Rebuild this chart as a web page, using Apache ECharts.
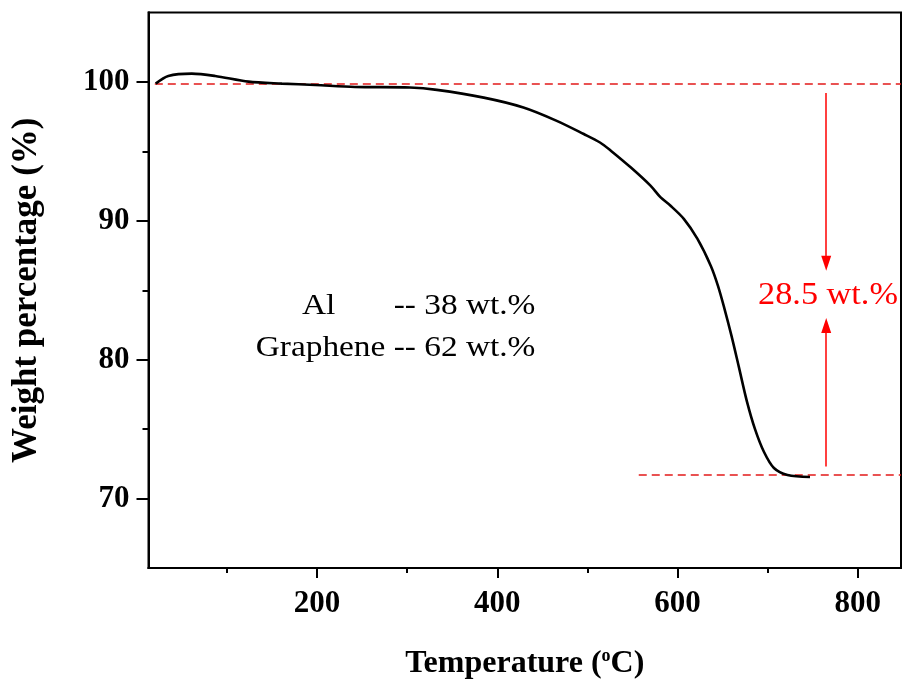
<!DOCTYPE html>
<html>
<head>
<meta charset="utf-8">
<script src="https://cdn.jsdelivr.net/npm/echarts@6/dist/echarts.min.js"></script>
<style>html,body{margin:0;padding:0;background:#fff}#c{width:904px;height:683px}</style>
</head>
<body>
<div id="c"></div>
<script>
// Data
var temperature = [21, 35, 61, 87, 124, 161, 198, 242, 303, 333, 385, 429, 466, 496, 514, 526, 548, 570, 581, 592, 607, 622, 637, 645, 652, 660, 668, 677, 686, 696, 707, 722, 747];
var weight = [99.88, 100.43, 100.6, 100.43, 100.02, 99.88, 99.78, 99.64, 99.6, 99.43, 98.87, 98.16, 97.2, 96.25, 95.64, 95.05, 93.85, 92.53, 91.7, 91.1, 90.14, 88.71, 86.75, 85.3, 83.7, 81.7, 79.5, 77.0, 75.0, 73.35, 72.2, 71.7, 71.55];
var xMajorTicks = [200, 400, 600, 800];
var xMinorTicks = [100, 300, 500, 700];
var yMajorTicks = [70, 80, 90, 100];
var yMinorTicks = [75, 85, 95];
var upperLevel = 99.85, upperStart = 20;
var lowerLevel = 71.68, lowerStart = 557;
var arrowX = 765;
var arrowDown = [99.2, 86.94];
var arrowUp = [72.3, 82.46];
var lossLabel = '28.5 wt.%';
var lossLabelPos = [767, 84.6];
var compTexts = ['Al', '-- 38 wt.%', 'Graphene -- 62 wt.%'];
var compTextPos = [[183.3, 83.81], [442.3, 83.81], [442.3, 80.8]];
var compTextAlign = ['left', 'right', 'right'];

var chart = echarts.init(document.getElementById('c'), null, {renderer: 'canvas'});
var serif = '"Liberation Serif", "Times New Roman", serif';
var xMin = 13, xMax = 848, yMin = 65, yMax = 105;
var pts = temperature.map(function (t, i) { return [t, weight[i]]; });
var red = '#ff0000';
var dashRed = '#e21a1a';

function xAxisBase(extra) {
  var a = {
    type: 'value', min: xMin, max: xMax, position: 'bottom', offset: 0,
    axisLine: {show: true, lineStyle: {color: '#000', width: 2}},
    splitLine: {show: false}
  };
  for (var k in extra) a[k] = extra[k];
  return a;
}
function yAxisBase(extra) {
  var a = {
    type: 'value', min: yMin, max: yMax, position: 'left', offset: 0,
    axisLine: {show: true, lineStyle: {color: '#000', width: 2}},
    splitLine: {show: false}
  };
  for (var k in extra) a[k] = extra[k];
  return a;
}

var option = {
  animation: false,
  backgroundColor: '#fff',
  grid: {left: 148.5, right: 3, top: 12.5, bottom: 115, containLabel: false, outerBoundsMode: 'none',
    show: true, borderColor: '#000', borderWidth: 2, backgroundColor: 'transparent'},
  xAxis: [
    xAxisBase({
      name: 'Temperature ({sup|o}C)',
      nameLocation: 'middle', nameGap: 79,
      nameTextStyle: {fontFamily: serif, fontWeight: 'bold', fontSize: 32, color: '#000',
        rich: {sup: {fontFamily: serif, fontWeight: 'bold', fontSize: 18, color: '#000', verticalAlign: 'top', padding: [0, 0, 15, 0]}}},
      axisTick: {show: true, inside: false, length: 10, lineStyle: {color: '#000', width: 2}, customValues: xMajorTicks},
      axisLabel: {show: true, margin: 20, fontFamily: serif, fontWeight: 'bold', fontSize: 31, color: '#000', customValues: xMajorTicks}
    }),
    xAxisBase({
      axisTick: {show: true, inside: false, length: 5, lineStyle: {color: '#000', width: 2}, customValues: xMinorTicks},
      axisLabel: {show: false, customValues: xMinorTicks}
    })
  ],
  yAxis: [
    yAxisBase({
      name: 'Weight percentage (%)',
      nameLocation: 'middle', nameGap: 104, nameRotate: 90,
      nameTextStyle: {fontFamily: serif, fontWeight: 'bold', fontSize: 35, color: '#000'},
      axisTick: {show: true, inside: false, length: 12, lineStyle: {color: '#000', width: 2}, customValues: yMajorTicks},
      axisLabel: {show: true, margin: 19, fontFamily: serif, fontWeight: 'bold', fontSize: 31, color: '#000', customValues: yMajorTicks}
    }),
    yAxisBase({
      axisTick: {show: true, inside: false, length: 6, lineStyle: {color: '#000', width: 2}, customValues: yMinorTicks},
      axisLabel: {show: false, customValues: yMinorTicks}
    })
  ],
  series: [
    {
      type: 'line', xAxisIndex: 0, yAxisIndex: 0,
      data: pts, smooth: 0.3, showSymbol: false, symbol: 'none',
      lineStyle: {color: '#000', width: 2.6},
      z: 5
    },
    {
      type: 'line', xAxisIndex: 0, yAxisIndex: 0, data: [], silent: true,
      markLine: {
        silent: true, animation: false,
        label: {show: false},
        emphasis: {disabled: true},
        data: [
          [{coord: [upperStart, upperLevel], symbol: 'none', lineStyle: {color: dashRed, width: 1.5, type: [8, 5]}},
           {coord: [xMax, upperLevel], symbol: 'none'}],
          [{coord: [lowerStart, lowerLevel], symbol: 'none', lineStyle: {color: dashRed, width: 1.5, type: [8, 5]}},
           {coord: [xMax, lowerLevel], symbol: 'none'}],
          [{coord: [arrowX, arrowDown[0]], symbol: 'none', lineStyle: {color: red, width: 1.5, type: 'solid'}},
           {coord: [arrowX, arrowDown[1]], symbol: 'triangle', symbolSize: [10, 15]}],
          [{coord: [arrowX, arrowUp[0]], symbol: 'none', lineStyle: {color: red, width: 1.5, type: 'solid'}},
           {coord: [arrowX, arrowUp[1]], symbol: 'triangle', symbolSize: [10, 15]}]
        ]
      }
    }
  ]
};
chart.setOption(option);

// Annotation texts placed from data coordinates (horizontally widened like the reference typeface)
function px(p) { return chart.convertToPixel({gridIndex: 0}, p); }
var graphics = [];
var lp = px(lossLabelPos);
graphics.push({type: 'text', x: lp[0], y: lp[1], scaleX: 1.07, scaleY: 1, silent: true, z: 10,
  style: {text: lossLabel, fill: red, font: '32px ' + serif, align: 'center', verticalAlign: 'middle'}});
compTexts.forEach(function (t, i) {
  var p = px(compTextPos[i]);
  graphics.push({type: 'text', x: p[0], y: p[1], scaleX: 1.15, scaleY: 1, silent: true, z: 10,
    style: {text: t, fill: '#000', font: '29px ' + serif, align: compTextAlign[i], verticalAlign: 'middle'}});
});
chart.setOption({graphic: graphics});
</script>
</body>
</html>
